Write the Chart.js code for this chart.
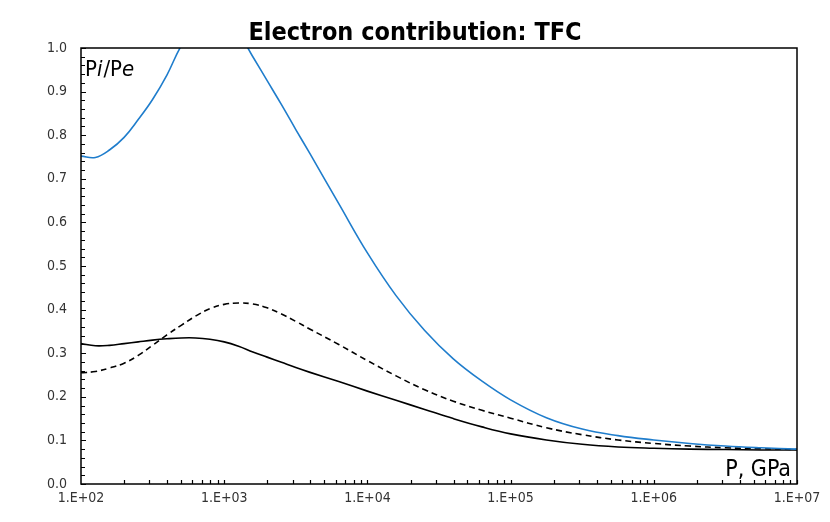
<!DOCTYPE html>
<html>
<head>
<meta charset="utf-8">
<script src="https://cdn.jsdelivr.net/npm/chart.js@4"></script>
<style>
  html, body { margin: 0; padding: 0; background: #fff; }
  #wrap { width: 830px; height: 522px; }
</style>
</head>
<body>
<div id="wrap"><canvas id="tfcChart" width="830" height="522"></canvas></div>
<script>
// pressure, GPa
const pressure = [100, 126, 158, 200, 251, 316, 398, 501, 631, 794, 1000, 1259, 1585, 1995, 2512, 3162, 3981,
    6310, 10000, 15849, 25119, 39811, 63096, 100000, 177828, 316228, 562341, 1000000, 1778279, 3162278, 5623413, 10000000];

// Pi/Pe curves
const blueCurve = [0.752, 0.749, 0.766, 0.795, 0.836, 0.882, 0.938, 1.005, 1.050, 1.075, 1.070, 1.035, 0.980, 0.925, 0.870, 0.813, 0.757,
    0.643, 0.530, 0.432, 0.352, 0.287, 0.236, 0.193, 0.152, 0.126, 0.111, 0.101, 0.093, 0.087, 0.083, 0.080];
const dashedCurve = [0.255, 0.258, 0.266, 0.277, 0.295, 0.318, 0.342, 0.364, 0.385, 0.402, 0.412, 0.415, 0.413, 0.404, 0.390, 0.373, 0.355,
    0.320, 0.283, 0.248, 0.216, 0.190, 0.169, 0.151, 0.129, 0.113, 0.101, 0.093, 0.087, 0.083, 0.081, 0.079];
const solidCurve = [0.322, 0.317, 0.318, 0.322, 0.326, 0.330, 0.333, 0.335, 0.335, 0.332, 0.326, 0.316, 0.303, 0.291, 0.279, 0.267, 0.256,
    0.235, 0.213, 0.192, 0.171, 0.150, 0.131, 0.115, 0.101, 0.091, 0.085, 0.082, 0.080, 0.079, 0.078, 0.078];

const yTicks = [0, 0.1, 0.2, 0.3, 0.4, 0.5, 0.6, 0.7, 0.8, 0.9, 1.0];

const FONT = "'Liberation Sans Narrow', 'DejaVu Sans Condensed', 'Liberation Sans', sans-serif";

function toPoints(ys) {
    return pressure.map((p, i) => ({ x: p, y: ys[i] }));
}

// box, inward tick marks and the two axis captions
const frameTicks = {
    id: 'frameTicks',
    afterDatasetsDraw: (chart) => {
        const ctx = chart.ctx;
        const a = chart.chartArea;
        const x = chart.scales.x;
        const y = chart.scales.y;
        ctx.save();
        ctx.strokeStyle = '#000';
        ctx.lineWidth = 1.5;
        ctx.strokeRect(a.left, a.top, a.right - a.left, a.bottom - a.top);

        ctx.lineWidth = 1.2;
        ctx.beginPath();
        for (let v = 0; v <= 100; v += 2) {
            const py = Math.round(y.getPixelForValue(v / 100)) + 0.5;
            const len = v % 10 === 0 ? 5 : 4;
            ctx.moveTo(a.left, py);
            ctx.lineTo(a.left + len, py);
        }
        for (let e = 2; e < 7; e++) {
            for (let k = 2; k <= 10; k++) {
                const px = Math.round(x.getPixelForValue(k * Math.pow(10, e))) + 0.5;
                ctx.moveTo(px, a.bottom);
                ctx.lineTo(px, a.bottom - 4);
            }
        }
        ctx.stroke();

        // "Pi/Pe"
        ctx.fillStyle = '#000';
        ctx.textBaseline = 'alphabetic';
        ctx.textAlign = 'left';
        let tx = a.left + 4;
        const ty = a.top + 28;
        const parts = [['P', ''], ['i', 'italic '], ['/', ''], ['P', ''], ['e', 'italic ']];
        parts.forEach(([s, st]) => {
            ctx.font = st + '22px ' + FONT;
            ctx.fillText(s, tx, ty);
            tx += ctx.measureText(s).width + (st ? 1 : 0);
        });

        // "P, GPa"
        ctx.font = '23px ' + FONT;
        ctx.textAlign = 'right';
        ctx.fillText('P, GPa', a.right - 6, a.bottom - 8);
        ctx.restore();
    }
};

document.addEventListener('DOMContentLoaded', function () {
    const data = {
        datasets: [{
            label: 'blue',
            data: toPoints(blueCurve),
            borderColor: '#1f7dcc',
            borderWidth: 1.6,
            pointRadius: 0,
            tension: 0.4
        }, {
            label: 'dashed',
            data: toPoints(dashedCurve),
            borderColor: '#000',
            borderWidth: 1.6,
            borderDash: [6, 4],
            pointRadius: 0,
            tension: 0.4
        }, {
            label: 'solid',
            data: toPoints(solidCurve),
            borderColor: '#000',
            borderWidth: 1.6,
            pointRadius: 0,
            tension: 0.4
        }]
    };

    const config = {
        type: 'line',
        data: data,
        options: {
            responsive: false,
            animation: false,
            layout: { padding: { left: 33, right: 33, top: 0, bottom: 0 } },
            plugins: {
                legend: { display: false },
                tooltip: { enabled: false },
                title: {
                    display: true,
                    text: 'Electron contribution: TFC',
                    color: '#000',
                    font: { family: FONT, size: 25, weight: 'bold', lineHeight: 1.2 },
                    padding: { top: 18, bottom: 0 }
                }
            },
            scales: {
                x: {
                    type: 'logarithmic',
                    min: 100,
                    max: 10000000,
                    grid: { display: false, drawTicks: false },
                    border: { display: false },
                    afterFit: (scale) => { scale.height = 38; },
                    ticks: {
                        autoSkip: false,
                        maxRotation: 0,
                        padding: 6,
                        color: '#333',
                        font: { family: FONT, size: 14 },
                        callback: function (value) {
                            const e = Math.log10(value);
                            if (Math.abs(e - Math.round(e)) > 1e-6) return '';
                            return '1.E+' + String(Math.round(e)).padStart(2, '0');
                        }
                    }
                },
                y: {
                    min: 0,
                    max: 1,
                    grid: { display: false, drawTicks: false },
                    border: { display: false },
                    afterFit: (scale) => { scale.width = 48; },
                    afterBuildTicks: (scale) => { scale.ticks = yTicks.map(v => ({ value: v })); },
                    ticks: {
                        padding: 14,
                        color: '#333',
                        font: { family: FONT, size: 14 },
                        callback: (value) => Number(value).toFixed(1)
                    }
                }
            }
        },
        plugins: [frameTicks]
    };

    new Chart(document.getElementById('tfcChart'), config);
});
</script>
</body>
</html>
